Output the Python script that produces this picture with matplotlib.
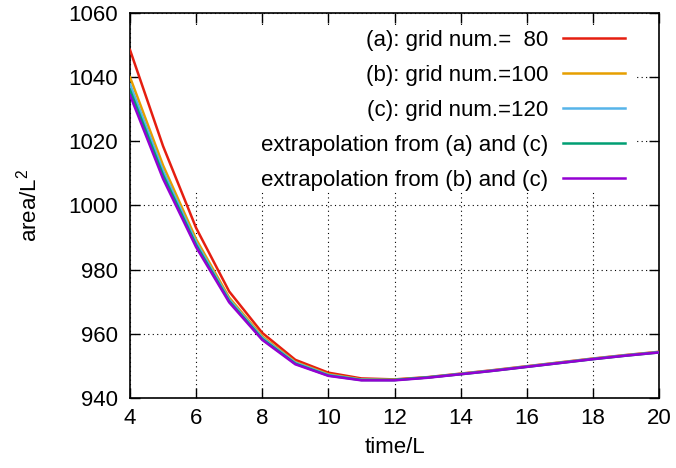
import matplotlib
matplotlib.use("Agg")
import matplotlib.pyplot as plt
from matplotlib.patches import Rectangle

plt.rcParams['font.family'] = ['Liberation Sans', 'DejaVu Sans']
plt.rcParams['mathtext.default'] = 'regular'

# data
time = [4, 5, 6, 7, 8, 9, 10, 11, 12, 13, 14, 15, 16, 17, 18, 19, 20]
area_a = [1048.5, 1018.5, 993.0, 973.2, 960.3, 951.9, 947.9, 946.1, 945.8, 946.5,
          947.6, 948.7, 949.9, 951.1, 952.3, 953.4, 954.4]
area_b = [1040.0, 1012.5, 989.5, 971.3, 959.2, 951.2, 947.4, 945.8, 945.7, 946.4,
          947.5, 948.6, 949.8, 951.0, 952.2, 953.3, 954.3]
area_c = [1037.8, 1010.8, 988.5, 970.7, 958.8, 951.0, 947.2, 945.7, 945.6, 946.4,
          947.5, 948.6, 949.8, 951.0, 952.2, 953.3, 954.3]
extrap_ac = [1036.0, 1009.5, 987.7, 970.2, 958.4, 950.7, 947.0, 945.6, 945.6, 946.4,
             947.4, 948.5, 949.7, 950.9, 952.1, 953.2, 954.2]
extrap_bc = [1034.4, 1008.3, 987.0, 969.8, 958.1, 950.5, 946.9, 945.5, 945.5, 946.3,
             947.4, 948.5, 949.7, 950.9, 952.1, 953.2, 954.2]

labels = ['(a): grid num.=  80', '(b): grid num.=100', '(c): grid num.=120',
          'extrapolation from (a) and (c)', 'extrapolation from (b) and (c)']
colors = ['#e51e10', '#e69f00', '#56b4e9', '#009e73', '#9400d3']

fs = 16

fig = plt.figure(figsize=(6.76, 4.68), dpi=100)
ax = fig.add_axes([130 / 676, 70 / 468, 529 / 676, 385 / 468])

for y, lab, c in zip([area_a, area_b, area_c, extrap_ac, extrap_bc], labels, colors):
    ax.plot(time, y, color=c, lw=1.8, label=lab, zorder=3)

ax.set_xlim(4, 20)
ax.set_ylim(940, 1060)
ax.set_xticks(range(4, 21, 2))
ax.set_yticks(range(940, 1061, 20))
ax.set_axisbelow(True)
ax.grid(True, color='black', ls=(0, (1, 3)), lw=0.8)
ax.tick_params(direction='in', length=7, width=1, top=True, right=True,
               labelsize=fs, pad=7)
ax.tick_params(axis='y', pad=9)
for s in ax.spines.values():
    s.set_linewidth(1.2)

# opaque key box like gnuplot
ax.add_patch(Rectangle(((140 - 130) / 529, (398 - 191) / 385),
                       (637 - 140) / 529, (191 - 25) / 385,
                       transform=ax.transAxes, facecolor='white', edgecolor='none',
                       zorder=1))

ax.set_xlabel('time/L', fontsize=fs, labelpad=6)
ax.set_ylabel('area/L$^2$', fontsize=fs, labelpad=19)

leg = ax.legend(loc='upper right', bbox_to_anchor=((625 - 130) / 529, (398 - 30) / 385),
                frameon=False, markerfirst=False, fontsize=fs, handlelength=2.8,
                handletextpad=0.65, labelspacing=0.63, borderpad=0, borderaxespad=0)
leg.set_zorder(5)

fig.savefig('out.png', dpi=100)
